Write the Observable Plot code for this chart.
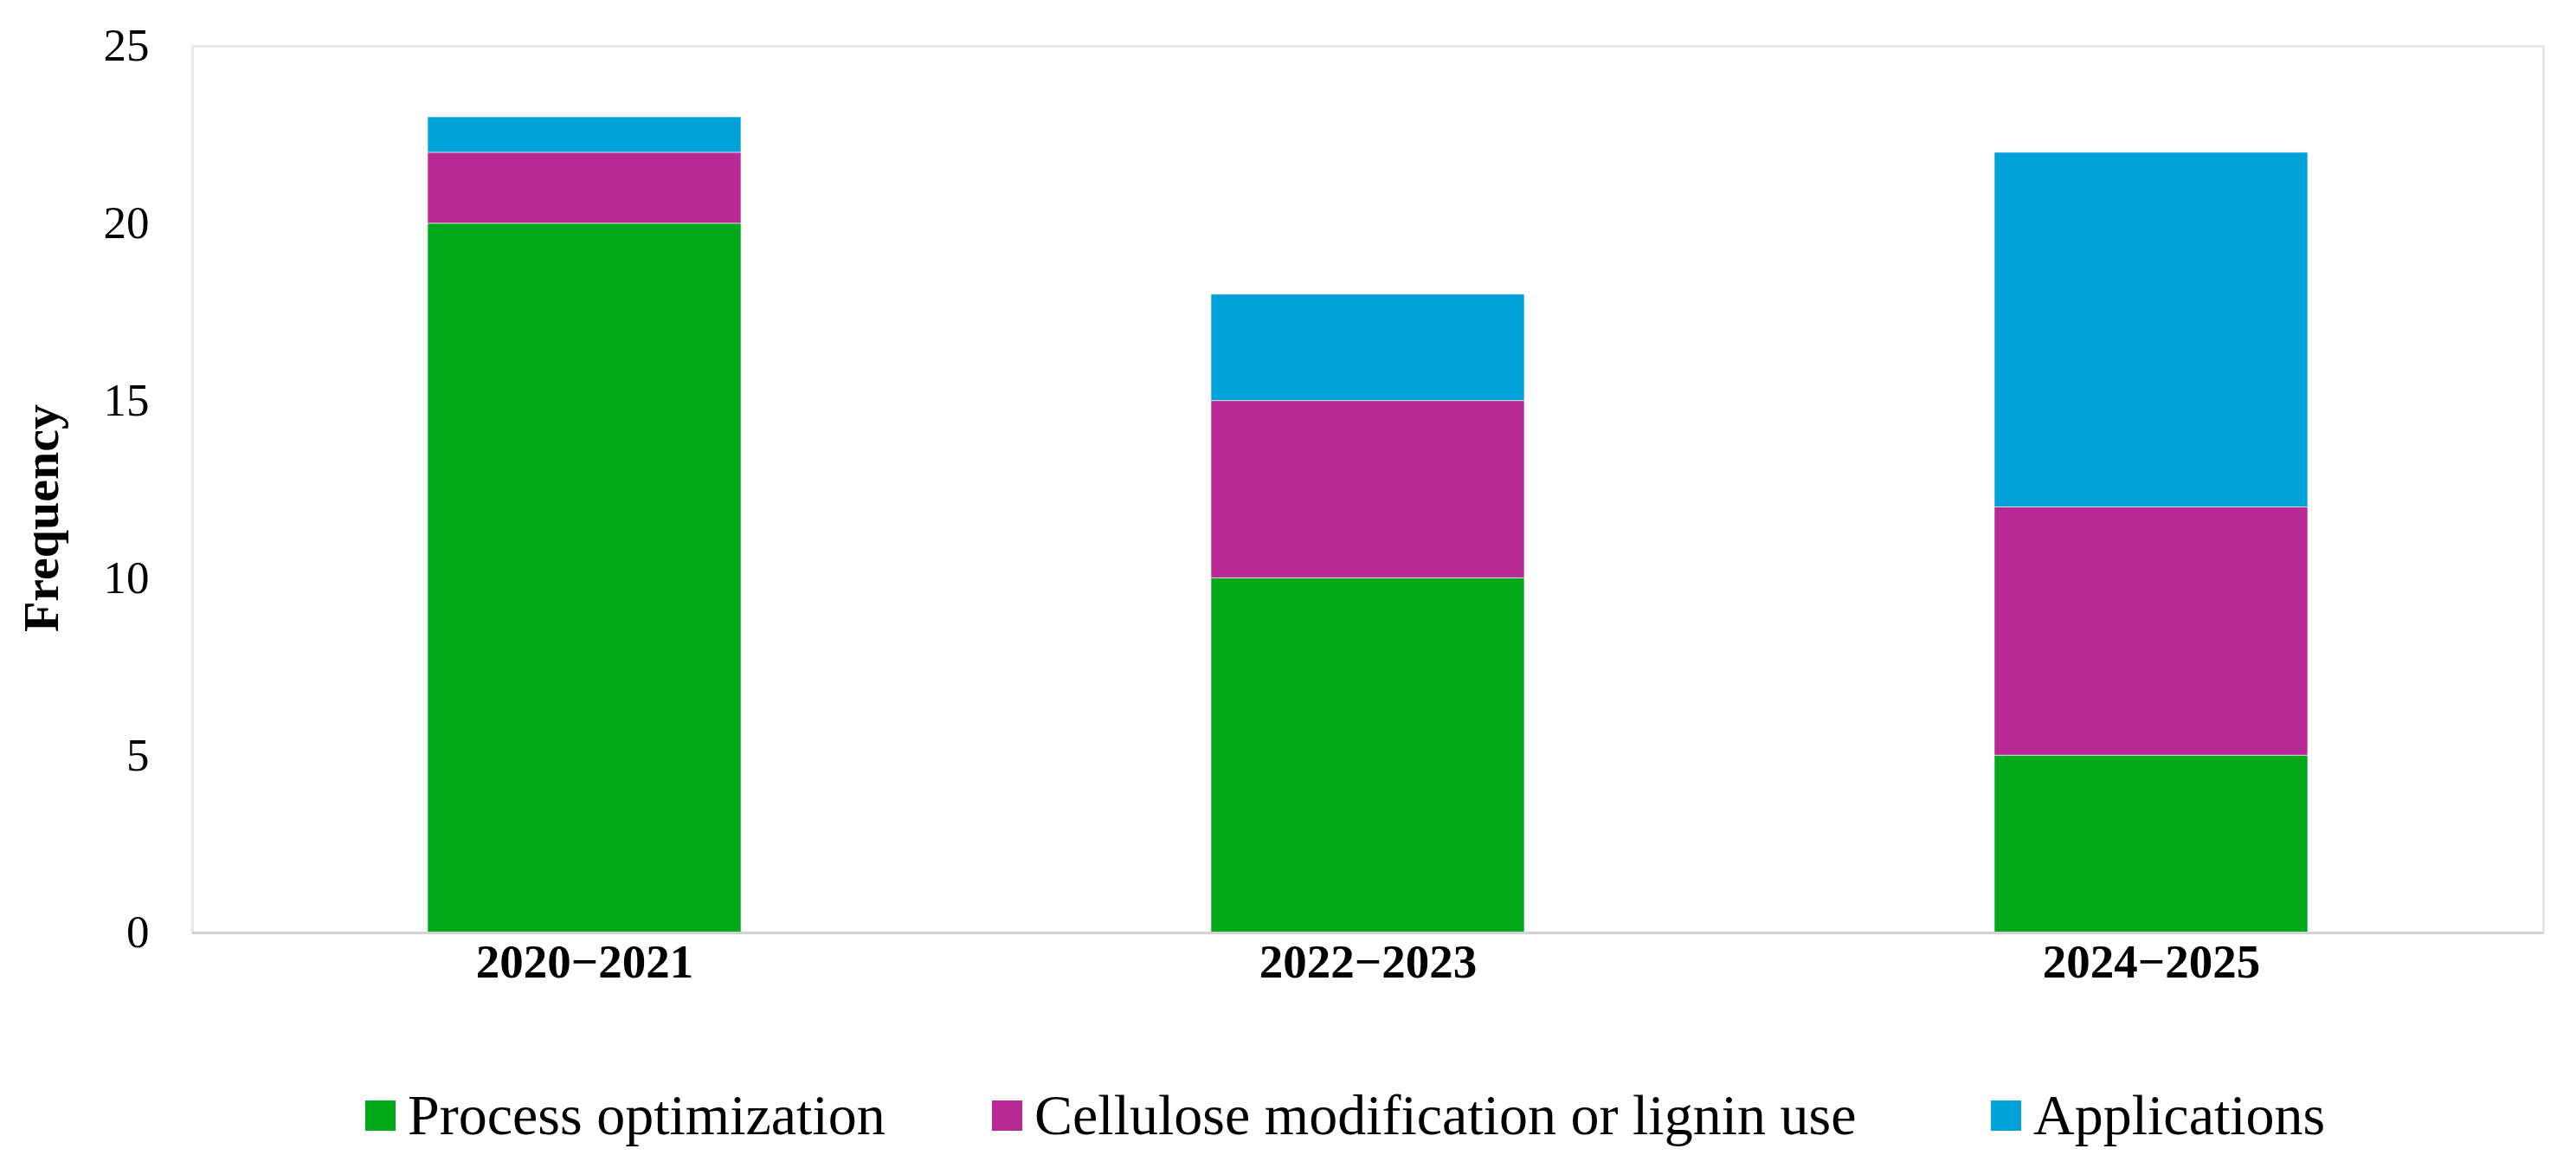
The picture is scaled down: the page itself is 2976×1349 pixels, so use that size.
<!DOCTYPE html>
<html>
<head>
<meta charset="utf-8">
<script src="https://cdn.jsdelivr.net/npm/d3@7"></script>
<script src="https://cdn.jsdelivr.net/npm/@observablehq/plot@0.6"></script>
<style>
  html, body { margin: 0; padding: 0; background: #ffffff; }
  #wrap { position: relative; width: 2976px; height: 1349px; overflow: hidden; font-family: "Liberation Serif", "Times New Roman", serif; }
  #legend { position: relative; height: 149px; }
  .item { position: absolute; top: 50px; display: flex; align-items: center; font-size: 66px; line-height: 76px; color: #000; white-space: nowrap; }
  .swatch { width: 35px; height: 35px; margin-right: 14px; }
</style>
</head>
<body>
<div id="wrap">
  <div id="chart"></div>
  <div id="legend"></div>
</div>
<script>
// ---- data ----
const periods = ["2020−2021", "2022−2023", "2024−2025"];
const seriesNames = ["Process optimization", "Cellulose modification or lignin use", "Applications"];
const processOptimization = [20, 10, 5];
const celluloseLignin = [2, 5, 7];
const applications = [1, 3, 10];
const seriesColors = ["#00a81a", "#b92995", "#00a2d9"];
const yTicks = [0, 5, 10, 15, 20, 25];

const seriesValues = [processOptimization, celluloseLignin, applications];
const rows = [];
seriesNames.forEach((s, si) => {
  periods.forEach((p, pi) => rows.push({period: p, series: s, value: seriesValues[si][pi]}));
});

const font = "'Liberation Serif', 'Times New Roman', serif";

const chart = Plot.plot({
  width: 2976,
  height: 1200,
  marginTop: 53,
  marginBottom: 123,
  marginLeft: 222,
  marginRight: 38,
  style: {fontFamily: font, background: "#ffffff", color: "#000"},
  x: {domain: periods, paddingInner: 0.6, paddingOuter: 0.3, label: null},
  y: {domain: [0, 25], ticks: yTicks, label: null},
  color: {domain: seriesNames, range: seriesColors},
  marks: [
    Plot.frame({stroke: "#e4e4e4", strokeWidth: 2.5}),
    Plot.barY(rows, {x: "period", y: "value", fill: "series", order: seriesNames, stroke: "#ffffff", strokeWidth: 1, strokeOpacity: 0.6}),
    Plot.ruleY([0], {stroke: "#d2d2d2", strokeWidth: 3}),
    Plot.axisY({ticks: yTicks, tickSize: 0, tickPadding: 50, fontSize: 53, label: null}),
    Plot.axisX({tickSize: 0, tickPadding: 12, fontSize: 55, fontWeight: "bold", label: null}),
    Plot.text(["Frequency"], {frameAnchor: "left", textAnchor: "middle", rotate: -90, dx: -174, dy: 33, fontSize: 58, fontWeight: "bold", fill: "#000"})
  ]
});
document.getElementById("chart").appendChild(chart);

// ---- legend ----
const legendLeft = [422, 1146, 2300];
const legend = document.getElementById("legend");
seriesNames.forEach((name, i) => {
  const item = document.createElement("div");
  item.className = "item";
  item.style.left = legendLeft[i] + "px";
  const sw = document.createElement("span");
  sw.className = "swatch";
  sw.style.background = seriesColors[i];
  const label = document.createElement("span");
  label.textContent = name;
  item.appendChild(sw);
  item.appendChild(label);
  legend.appendChild(item);
});
</script>
</body>
</html>
